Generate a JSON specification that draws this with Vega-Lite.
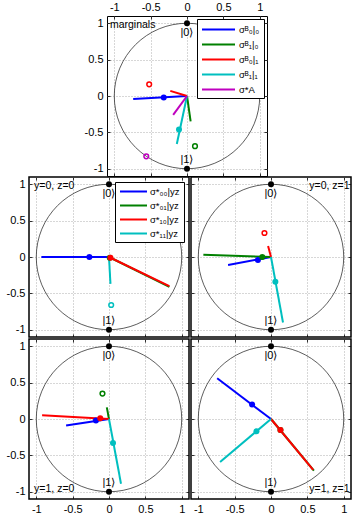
{
  "$schema": "https://vega.github.io/schema/vega-lite/v6.json",
  "padding": {"left": 5, "top": 0, "right": 0, "bottom": 0},
  "spacing": -3,
  "resolve": {"scale": {"color": "independent"}, "legend": {"color": "independent"}},
  "config": {
    "view": {"stroke": "black"},
    "font": "Liberation Sans",
    "axis": {"domain": false, "tickSize": -3, "tickColor": "black", "tickWidth": 0.8, "labelPadding": 3, "minExtent": 0, "labelFont": "Liberation Sans", "labelFontSize": 11, "labelColor": "black", "labelFlush": false, "labelOverlap": false, "gridDash": [1, 2], "gridColor": "#999999", "gridWidth": 0.8, "format": "~g"},
    "legend": {"title": null, "fillColor": "white", "strokeColor": "black", "padding": 4, "labelFont": "Liberation Sans", "labelFontSize": 9.5, "labelColor": "black", "symbolStrokeWidth": 2, "rowPadding": 4, "labelLimit": 0}
  },
  "vconcat": [
    {
      "columns": 2,
      "spacing": 2,
      "bounds": "flush",
      "resolve": {"scale": {"color": "independent"}, "legend": {"color": "independent"}},
      "concat": [
        {
          "width": 76, "height": 160,
          "view": {"stroke": null},
          "data": {"values": []},
          "mark": {"type": "point", "opacity": 0},
          "encoding": {}
        },
        {
          "width": 160, "height": 160,
          "view": {"stroke": "black", "strokeWidth": 1},
          "data": {"values": [
            {"s": "σᴮ₀|₀", "ex": -0.74, "ey": -0.04, "px": -0.32, "py": -0.02, "m": "dot"},
            {"s": "σᴮ₁|₀", "ex": 0.05, "ey": -0.35, "px": 0.11, "py": -0.69, "m": "ring"},
            {"s": "σᴮ₀|₁", "ex": -0.23, "ey": 0.07, "px": -0.52, "py": 0.16, "m": "ring"},
            {"s": "σᴮ₁|₁", "ex": -0.14, "ey": -0.66, "px": -0.11, "py": -0.46, "m": "dot"},
            {"s": "σ*A", "ex": -0.19, "ey": -0.26, "px": -0.56, "py": -0.83, "m": "ring"}
          ]},
          "resolve": {"axis": {"x": "independent", "y": "independent"}},
          "layer": [
            {
              "data": {"values": [{"panel": "marginals"}]},
              "mark": {"type": "point", "shape": "circle", "size": 21156, "filled": false, "color": "#333333", "strokeWidth": 0.8, "opacity": 1},
              "encoding": {
                "x": {"datum": 0, "type": "quantitative", "scale": {"domain": [-1.1, 1.1], "nice": false, "zero": false}, "axis": {"orient": "top", "values": [-1, -0.5, 0, 0.5, 1], "grid": true, "labels": true, "labelPadding": 7, "labelExpr": "replace(datum.label,'−','-')", "title": null}},
                "y": {"datum": 0, "type": "quantitative", "scale": {"domain": [-1.1, 1.1], "nice": false, "zero": false}, "axis": {"orient": "left", "values": [-1, -0.5, 0, 0.5, 1], "grid": true, "labels": true, "labelPadding": 7, "labelExpr": "replace(datum.label,'−','-')", "title": null}}
              }
            },
            {
              "data": {"values": [{"state": "|0⟩", "sy": 1}, {"state": "|1⟩", "sy": -1}]},
              "mark": {"type": "point", "shape": "circle", "filled": true, "color": "black", "size": 36, "opacity": 1},
              "encoding": {
                "x": {"datum": 0, "type": "quantitative", "axis": {"orient": "bottom", "values": [-1, -0.5, 0, 0.5, 1], "grid": false, "labels": false, "maxExtent": 0, "title": null}},
                "y": {"field": "sy", "type": "quantitative", "axis": {"orient": "right", "values": [-1, -0.5, 0, 0.5, 1], "grid": false, "labels": false, "maxExtent": 0, "title": null}}
              }
            },
            {
              "data": {"values": [{"state": "|0⟩", "sy": 1}, {"state": "|1⟩", "sy": -1}]},
              "transform": [{"filter": "datum.sy > 0"}],
              "mark": {"type": "text", "dy": 10, "baseline": "middle", "font": "Liberation Sans", "fontSize": 11},
              "encoding": {"x": {"datum": 0, "type": "quantitative", "axis": null}, "y": {"field": "sy", "type": "quantitative", "axis": null}, "text": {"field": "state"}}
            },
            {
              "data": {"values": [{"state": "|0⟩", "sy": 1}, {"state": "|1⟩", "sy": -1}]},
              "transform": [{"filter": "datum.sy < 0"}],
              "mark": {"type": "text", "dy": -9, "baseline": "middle", "font": "Liberation Sans", "fontSize": 11},
              "encoding": {"x": {"datum": 0, "type": "quantitative", "axis": null}, "y": {"field": "sy", "type": "quantitative", "axis": null}, "text": {"field": "state"}}
            },
            {
              "mark": {"type": "rule", "strokeWidth": 2},
              "encoding": {
                "x": {"field": "ex", "type": "quantitative", "axis": null},
                "y": {"field": "ey", "type": "quantitative", "axis": null},
                "x2": {"datum": 0}, "y2": {"datum": 0},
                "color": {"field": "s", "type": "nominal", "scale": {"domain": ["σᴮ₀|₀", "σᴮ₁|₀", "σᴮ₀|₁", "σᴮ₁|₁", "σ*A"], "range": ["#0000FF", "#008000", "#FF0000", "#00BFBF", "#BF00BF"]},
                  "legend": {"orient": "top-right", "offset": 3, "symbolType": "M-1,0H5", "symbolSize": 121, "labelOffset": 25}}
              }
            },
            {
              "transform": [{"filter": "datum.m == 'dot'"}],
              "mark": {"type": "point", "shape": "circle", "filled": true, "size": 36, "opacity": 1},
              "encoding": {"x": {"field": "px", "type": "quantitative", "axis": null}, "y": {"field": "py", "type": "quantitative", "axis": null}, "color": {"field": "s", "type": "nominal", "legend": null}}
            },
            {
              "transform": [{"filter": "datum.m == 'ring'"}],
              "mark": {"type": "point", "shape": "circle", "filled": false, "size": 22, "strokeWidth": 1.5, "opacity": 1},
              "encoding": {"x": {"field": "px", "type": "quantitative", "axis": null}, "y": {"field": "py", "type": "quantitative", "axis": null}, "color": {"field": "s", "type": "nominal", "legend": null}}
            },
            {
              "data": {"values": [{"panel": "marginals"}]},
              "mark": {"type": "text", "align": "left", "baseline": "alphabetic", "font": "Liberation Sans", "fontSize": 10.5},
              "encoding": {"x": {"datum": -1.06, "type": "quantitative", "axis": null}, "y": {"datum": 0.93, "type": "quantitative", "axis": null}, "text": {"field": "panel"}}
            }
          ]
        }
      ]
    },
    {
      "columns": 2,
      "spacing": 2,
      "bounds": "flush",
      "resolve": {"scale": {"color": "independent"}, "legend": {"color": "independent"}},
      "concat": [
        {
          "width": 160, "height": 160,
          "view": {"stroke": "black", "strokeWidth": 1.5},
          "data": {"values": [
            {"s": "σ*₀₀|yz", "ex": -0.93, "ey": 0, "px": -0.27, "py": 0, "m": "dot"},
            {"s": "σ*₀₁|yz", "ex": 0.83, "ey": -0.41, "px": 0.01, "py": -0.01, "m": "dot"},
            {"s": "σ*₁₀|yz", "ex": 0.83, "ey": -0.40, "px": 0.02, "py": -0.01, "m": "dot"},
            {"s": "σ*₁₁|yz", "ex": 0.02, "ey": -0.37, "px": 0.03, "py": -0.66, "m": "ring"}
          ]},
          "resolve": {"axis": {"x": "independent", "y": "independent"}},
          "layer": [
            {
              "data": {"values": [{"panel": "y=0, z=0"}]},
              "mark": {"type": "point", "shape": "circle", "size": 21156, "filled": false, "color": "#333333", "strokeWidth": 0.8, "opacity": 1},
              "encoding": {
                "x": {"datum": 0, "type": "quantitative", "scale": {"domain": [-1.1, 1.1], "nice": false, "zero": false}, "axis": {"orient": "bottom", "values": [-1, -0.5, 0, 0.5, 1], "grid": true, "labels": false, "maxExtent": 0, "title": null}},
                "y": {"datum": 0, "type": "quantitative", "scale": {"domain": [-1.1, 1.1], "nice": false, "zero": false}, "axis": {"orient": "left", "values": [-1, -0.5, 0, 0.5, 1], "grid": true, "labels": true, "labelPadding": 7, "labelExpr": "replace(datum.label,'−','-')", "title": null}}
              }
            },
            {
              "data": {"values": [{"state": "|0⟩", "sy": 1}, {"state": "|1⟩", "sy": -1}]},
              "mark": {"type": "point", "shape": "circle", "filled": true, "color": "black", "size": 36, "opacity": 1},
              "encoding": {
                "x": {"datum": 0, "type": "quantitative", "axis": {"orient": "top", "values": [-1, -0.5, 0, 0.5, 1], "grid": false, "labels": false, "maxExtent": 0, "title": null}},
                "y": {"field": "sy", "type": "quantitative", "axis": {"orient": "right", "values": [-1, -0.5, 0, 0.5, 1], "grid": false, "labels": false, "maxExtent": 0, "title": null}}
              }
            },
            {
              "data": {"values": [{"state": "|0⟩", "sy": 1}, {"state": "|1⟩", "sy": -1}]},
              "transform": [{"filter": "datum.sy > 0"}],
              "mark": {"type": "text", "dy": 10, "baseline": "middle", "font": "Liberation Sans", "fontSize": 11},
              "encoding": {"x": {"datum": 0, "type": "quantitative", "axis": null}, "y": {"field": "sy", "type": "quantitative", "axis": null}, "text": {"field": "state"}}
            },
            {
              "data": {"values": [{"state": "|0⟩", "sy": 1}, {"state": "|1⟩", "sy": -1}]},
              "transform": [{"filter": "datum.sy < 0"}],
              "mark": {"type": "text", "dy": -9, "baseline": "middle", "font": "Liberation Sans", "fontSize": 11},
              "encoding": {"x": {"datum": 0, "type": "quantitative", "axis": null}, "y": {"field": "sy", "type": "quantitative", "axis": null}, "text": {"field": "state"}}
            },
            {
              "mark": {"type": "rule", "strokeWidth": 2},
              "encoding": {
                "x": {"field": "ex", "type": "quantitative", "axis": null},
                "y": {"field": "ey", "type": "quantitative", "axis": null},
                "x2": {"datum": 0}, "y2": {"datum": 0},
                "color": {"field": "s", "type": "nominal", "scale": {"domain": ["σ*₀₀|yz", "σ*₀₁|yz", "σ*₁₀|yz", "σ*₁₁|yz"], "range": ["#0000FF", "#008000", "#FF0000", "#00BFBF"]},
                  "legend": {"orient": "top-right", "offset": 5, "symbolType": "M-1,0H5", "symbolSize": 81, "labelOffset": 20}}
              }
            },
            {
              "transform": [{"filter": "datum.m == 'dot'"}],
              "mark": {"type": "point", "shape": "circle", "filled": true, "size": 36, "opacity": 1},
              "encoding": {"x": {"field": "px", "type": "quantitative", "axis": null}, "y": {"field": "py", "type": "quantitative", "axis": null}, "color": {"field": "s", "type": "nominal", "legend": null}}
            },
            {
              "transform": [{"filter": "datum.m == 'ring'"}],
              "mark": {"type": "point", "shape": "circle", "filled": false, "size": 22, "strokeWidth": 1.5, "opacity": 1},
              "encoding": {"x": {"field": "px", "type": "quantitative", "axis": null}, "y": {"field": "py", "type": "quantitative", "axis": null}, "color": {"field": "s", "type": "nominal", "legend": null}}
            },
            {
              "data": {"values": [{"panel": "y=0, z=0"}]},
              "mark": {"type": "text", "align": "left", "baseline": "alphabetic", "font": "Liberation Sans", "fontSize": 10.5},
              "encoding": {"x": {"datum": -1.03, "type": "quantitative", "axis": null}, "y": {"datum": 0.93, "type": "quantitative", "axis": null}, "text": {"field": "panel"}}
            }
          ]
        },
        {
          "width": 160, "height": 160,
          "view": {"stroke": "black", "strokeWidth": 1.5},
          "data": {"values": [
            {"s": "σ*₀₀|yz", "ex": -0.59, "ey": -0.11, "px": -0.18, "py": -0.04, "m": "dot"},
            {"s": "σ*₀₁|yz", "ex": -0.93, "ey": 0.03, "px": -0.12, "py": 0.0, "m": "dot"},
            {"s": "σ*₁₀|yz", "ex": -0.04, "ey": 0.15, "px": -0.09, "py": 0.33, "m": "ring"},
            {"s": "σ*₁₁|yz", "ex": 0.165, "ey": -0.90, "px": 0.06, "py": -0.34, "m": "dot"}
          ]},
          "resolve": {"axis": {"x": "independent", "y": "independent"}},
          "layer": [
            {
              "data": {"values": [{"panel": "y=0, z=1"}]},
              "mark": {"type": "point", "shape": "circle", "size": 21156, "filled": false, "color": "#333333", "strokeWidth": 0.8, "opacity": 1},
              "encoding": {
                "x": {"datum": 0, "type": "quantitative", "scale": {"domain": [-1.1, 1.1], "nice": false, "zero": false}, "axis": {"orient": "bottom", "values": [-1, -0.5, 0, 0.5, 1], "grid": true, "labels": false, "maxExtent": 0, "title": null}},
                "y": {"datum": 0, "type": "quantitative", "scale": {"domain": [-1.1, 1.1], "nice": false, "zero": false}, "axis": {"orient": "left", "values": [-1, -0.5, 0, 0.5, 1], "grid": true, "labels": false, "maxExtent": 0, "title": null}}
              }
            },
            {
              "data": {"values": [{"state": "|0⟩", "sy": 1}, {"state": "|1⟩", "sy": -1}]},
              "mark": {"type": "point", "shape": "circle", "filled": true, "color": "black", "size": 36, "opacity": 1},
              "encoding": {
                "x": {"datum": 0, "type": "quantitative", "axis": {"orient": "top", "values": [-1, -0.5, 0, 0.5, 1], "grid": false, "labels": false, "maxExtent": 0, "title": null}},
                "y": {"field": "sy", "type": "quantitative", "axis": {"orient": "right", "values": [-1, -0.5, 0, 0.5, 1], "grid": false, "labels": false, "maxExtent": 0, "title": null}}
              }
            },
            {
              "data": {"values": [{"state": "|0⟩", "sy": 1}, {"state": "|1⟩", "sy": -1}]},
              "transform": [{"filter": "datum.sy > 0"}],
              "mark": {"type": "text", "dy": 10, "baseline": "middle", "font": "Liberation Sans", "fontSize": 11},
              "encoding": {"x": {"datum": 0, "type": "quantitative", "axis": null}, "y": {"field": "sy", "type": "quantitative", "axis": null}, "text": {"field": "state"}}
            },
            {
              "data": {"values": [{"state": "|0⟩", "sy": 1}, {"state": "|1⟩", "sy": -1}]},
              "transform": [{"filter": "datum.sy < 0"}],
              "mark": {"type": "text", "dy": -9, "baseline": "middle", "font": "Liberation Sans", "fontSize": 11},
              "encoding": {"x": {"datum": 0, "type": "quantitative", "axis": null}, "y": {"field": "sy", "type": "quantitative", "axis": null}, "text": {"field": "state"}}
            },
            {
              "mark": {"type": "rule", "strokeWidth": 2},
              "encoding": {
                "x": {"field": "ex", "type": "quantitative", "axis": null},
                "y": {"field": "ey", "type": "quantitative", "axis": null},
                "x2": {"datum": 0}, "y2": {"datum": 0},
                "color": {"field": "s", "type": "nominal", "scale": {"domain": ["σ*₀₀|yz", "σ*₀₁|yz", "σ*₁₀|yz", "σ*₁₁|yz"], "range": ["#0000FF", "#008000", "#FF0000", "#00BFBF"]}, "legend": null}
              }
            },
            {
              "transform": [{"filter": "datum.m == 'dot'"}],
              "mark": {"type": "point", "shape": "circle", "filled": true, "size": 36, "opacity": 1},
              "encoding": {"x": {"field": "px", "type": "quantitative", "axis": null}, "y": {"field": "py", "type": "quantitative", "axis": null}, "color": {"field": "s", "type": "nominal", "legend": null}}
            },
            {
              "transform": [{"filter": "datum.m == 'ring'"}],
              "mark": {"type": "point", "shape": "circle", "filled": false, "size": 22, "strokeWidth": 1.5, "opacity": 1},
              "encoding": {"x": {"field": "px", "type": "quantitative", "axis": null}, "y": {"field": "py", "type": "quantitative", "axis": null}, "color": {"field": "s", "type": "nominal", "legend": null}}
            },
            {
              "data": {"values": [{"panel": "y=0, z=1"}]},
              "mark": {"type": "text", "align": "right", "baseline": "alphabetic", "font": "Liberation Sans", "fontSize": 10.5},
              "encoding": {"x": {"datum": 1.08, "type": "quantitative", "axis": null}, "y": {"datum": 0.94, "type": "quantitative", "axis": null}, "text": {"field": "panel"}}
            }
          ]
        },
        {
          "width": 160, "height": 160,
          "view": {"stroke": "black", "strokeWidth": 1.5},
          "data": {"values": [
            {"s": "σ*₀₀|yz", "ex": -0.59, "ey": -0.09, "px": -0.18, "py": -0.02, "m": "dot"},
            {"s": "σ*₀₁|yz", "ex": -0.03, "ey": 0.16, "px": -0.09, "py": 0.35, "m": "ring"},
            {"s": "σ*₁₀|yz", "ex": -0.92, "ey": 0.05, "px": -0.12, "py": 0.01, "m": "dot"},
            {"s": "σ*₁₁|yz", "ex": 0.165, "ey": -0.89, "px": 0.055, "py": -0.33, "m": "dot"}
          ]},
          "resolve": {"axis": {"x": "independent", "y": "independent"}},
          "layer": [
            {
              "data": {"values": [{"panel": "y=1, z=0"}]},
              "mark": {"type": "point", "shape": "circle", "size": 21156, "filled": false, "color": "#333333", "strokeWidth": 0.8, "opacity": 1},
              "encoding": {
                "x": {"datum": 0, "type": "quantitative", "scale": {"domain": [-1.1, 1.1], "nice": false, "zero": false}, "axis": {"orient": "bottom", "values": [-1, -0.5, 0, 0.5, 1], "grid": true, "labels": true, "labelPadding": 7, "labelExpr": "replace(datum.label,'−','-')", "title": null}},
                "y": {"datum": 0, "type": "quantitative", "scale": {"domain": [-1.1, 1.1], "nice": false, "zero": false}, "axis": {"orient": "left", "values": [-1, -0.5, 0, 0.5, 1], "grid": true, "labels": true, "labelPadding": 7, "labelExpr": "replace(datum.label,'−','-')", "title": null}}
              }
            },
            {
              "data": {"values": [{"state": "|0⟩", "sy": 1}, {"state": "|1⟩", "sy": -1}]},
              "mark": {"type": "point", "shape": "circle", "filled": true, "color": "black", "size": 36, "opacity": 1},
              "encoding": {
                "x": {"datum": 0, "type": "quantitative", "axis": {"orient": "top", "values": [-1, -0.5, 0, 0.5, 1], "grid": false, "labels": false, "maxExtent": 0, "title": null}},
                "y": {"field": "sy", "type": "quantitative", "axis": {"orient": "right", "values": [-1, -0.5, 0, 0.5, 1], "grid": false, "labels": false, "maxExtent": 0, "title": null}}
              }
            },
            {
              "data": {"values": [{"state": "|0⟩", "sy": 1}, {"state": "|1⟩", "sy": -1}]},
              "transform": [{"filter": "datum.sy > 0"}],
              "mark": {"type": "text", "dy": 10, "baseline": "middle", "font": "Liberation Sans", "fontSize": 11},
              "encoding": {"x": {"datum": 0, "type": "quantitative", "axis": null}, "y": {"field": "sy", "type": "quantitative", "axis": null}, "text": {"field": "state"}}
            },
            {
              "data": {"values": [{"state": "|0⟩", "sy": 1}, {"state": "|1⟩", "sy": -1}]},
              "transform": [{"filter": "datum.sy < 0"}],
              "mark": {"type": "text", "dy": -9, "baseline": "middle", "font": "Liberation Sans", "fontSize": 11},
              "encoding": {"x": {"datum": 0, "type": "quantitative", "axis": null}, "y": {"field": "sy", "type": "quantitative", "axis": null}, "text": {"field": "state"}}
            },
            {
              "mark": {"type": "rule", "strokeWidth": 2},
              "encoding": {
                "x": {"field": "ex", "type": "quantitative", "axis": null},
                "y": {"field": "ey", "type": "quantitative", "axis": null},
                "x2": {"datum": 0}, "y2": {"datum": 0},
                "color": {"field": "s", "type": "nominal", "scale": {"domain": ["σ*₀₀|yz", "σ*₀₁|yz", "σ*₁₀|yz", "σ*₁₁|yz"], "range": ["#0000FF", "#008000", "#FF0000", "#00BFBF"]}, "legend": null}
              }
            },
            {
              "transform": [{"filter": "datum.m == 'dot'"}],
              "mark": {"type": "point", "shape": "circle", "filled": true, "size": 36, "opacity": 1},
              "encoding": {"x": {"field": "px", "type": "quantitative", "axis": null}, "y": {"field": "py", "type": "quantitative", "axis": null}, "color": {"field": "s", "type": "nominal", "legend": null}}
            },
            {
              "transform": [{"filter": "datum.m == 'ring'"}],
              "mark": {"type": "point", "shape": "circle", "filled": false, "size": 22, "strokeWidth": 1.5, "opacity": 1},
              "encoding": {"x": {"field": "px", "type": "quantitative", "axis": null}, "y": {"field": "py", "type": "quantitative", "axis": null}, "color": {"field": "s", "type": "nominal", "legend": null}}
            },
            {
              "data": {"values": [{"panel": "y=1, z=0"}]},
              "mark": {"type": "text", "align": "left", "baseline": "alphabetic", "font": "Liberation Sans", "fontSize": 10.5},
              "encoding": {"x": {"datum": -1.03, "type": "quantitative", "axis": null}, "y": {"datum": -1.01, "type": "quantitative", "axis": null}, "text": {"field": "panel"}}
            }
          ]
        },
        {
          "width": 160, "height": 160,
          "view": {"stroke": "black", "strokeWidth": 1.5},
          "data": {"values": [
            {"s": "σ*₀₀|yz", "ex": -0.74, "ey": 0.56, "px": -0.26, "py": 0.20, "m": "dot"},
            {"s": "σ*₀₁|yz", "ex": 0.59, "ey": -0.71, "px": 0.13, "py": -0.15, "m": "dot"},
            {"s": "σ*₁₀|yz", "ex": 0.58, "ey": -0.70, "px": 0.13, "py": -0.15, "m": "dot"},
            {"s": "σ*₁₁|yz", "ex": -0.70, "ey": -0.59, "px": -0.20, "py": -0.17, "m": "dot"}
          ]},
          "resolve": {"axis": {"x": "independent", "y": "independent"}},
          "layer": [
            {
              "data": {"values": [{"panel": "y=1, z=1"}]},
              "mark": {"type": "point", "shape": "circle", "size": 21156, "filled": false, "color": "#333333", "strokeWidth": 0.8, "opacity": 1},
              "encoding": {
                "x": {"datum": 0, "type": "quantitative", "scale": {"domain": [-1.1, 1.1], "nice": false, "zero": false}, "axis": {"orient": "bottom", "values": [-1, -0.5, 0, 0.5, 1], "grid": true, "labels": true, "labelPadding": 7, "labelExpr": "replace(datum.label,'−','-')", "title": null}},
                "y": {"datum": 0, "type": "quantitative", "scale": {"domain": [-1.1, 1.1], "nice": false, "zero": false}, "axis": {"orient": "left", "values": [-1, -0.5, 0, 0.5, 1], "grid": true, "labels": false, "maxExtent": 0, "title": null}}
              }
            },
            {
              "data": {"values": [{"state": "|0⟩", "sy": 1}, {"state": "|1⟩", "sy": -1}]},
              "mark": {"type": "point", "shape": "circle", "filled": true, "color": "black", "size": 36, "opacity": 1},
              "encoding": {
                "x": {"datum": 0, "type": "quantitative", "axis": {"orient": "top", "values": [-1, -0.5, 0, 0.5, 1], "grid": false, "labels": false, "maxExtent": 0, "title": null}},
                "y": {"field": "sy", "type": "quantitative", "axis": {"orient": "right", "values": [-1, -0.5, 0, 0.5, 1], "grid": false, "labels": false, "maxExtent": 0, "title": null}}
              }
            },
            {
              "data": {"values": [{"state": "|0⟩", "sy": 1}, {"state": "|1⟩", "sy": -1}]},
              "transform": [{"filter": "datum.sy > 0"}],
              "mark": {"type": "text", "dy": 10, "baseline": "middle", "font": "Liberation Sans", "fontSize": 11},
              "encoding": {"x": {"datum": 0, "type": "quantitative", "axis": null}, "y": {"field": "sy", "type": "quantitative", "axis": null}, "text": {"field": "state"}}
            },
            {
              "data": {"values": [{"state": "|0⟩", "sy": 1}, {"state": "|1⟩", "sy": -1}]},
              "transform": [{"filter": "datum.sy < 0"}],
              "mark": {"type": "text", "dy": -9, "baseline": "middle", "font": "Liberation Sans", "fontSize": 11},
              "encoding": {"x": {"datum": 0, "type": "quantitative", "axis": null}, "y": {"field": "sy", "type": "quantitative", "axis": null}, "text": {"field": "state"}}
            },
            {
              "mark": {"type": "rule", "strokeWidth": 2},
              "encoding": {
                "x": {"field": "ex", "type": "quantitative", "axis": null},
                "y": {"field": "ey", "type": "quantitative", "axis": null},
                "x2": {"datum": 0}, "y2": {"datum": 0},
                "color": {"field": "s", "type": "nominal", "scale": {"domain": ["σ*₀₀|yz", "σ*₀₁|yz", "σ*₁₀|yz", "σ*₁₁|yz"], "range": ["#0000FF", "#008000", "#FF0000", "#00BFBF"]}, "legend": null}
              }
            },
            {
              "transform": [{"filter": "datum.m == 'dot'"}],
              "mark": {"type": "point", "shape": "circle", "filled": true, "size": 36, "opacity": 1},
              "encoding": {"x": {"field": "px", "type": "quantitative", "axis": null}, "y": {"field": "py", "type": "quantitative", "axis": null}, "color": {"field": "s", "type": "nominal", "legend": null}}
            },
            {
              "transform": [{"filter": "datum.m == 'ring'"}],
              "mark": {"type": "point", "shape": "circle", "filled": false, "size": 22, "strokeWidth": 1.5, "opacity": 1},
              "encoding": {"x": {"field": "px", "type": "quantitative", "axis": null}, "y": {"field": "py", "type": "quantitative", "axis": null}, "color": {"field": "s", "type": "nominal", "legend": null}}
            },
            {
              "data": {"values": [{"panel": "y=1, z=1"}]},
              "mark": {"type": "text", "align": "right", "baseline": "alphabetic", "font": "Liberation Sans", "fontSize": 10.5},
              "encoding": {"x": {"datum": 1.08, "type": "quantitative", "axis": null}, "y": {"datum": -1.01, "type": "quantitative", "axis": null}, "text": {"field": "panel"}}
            }
          ]
        }
      ]
    }
  ]
}
